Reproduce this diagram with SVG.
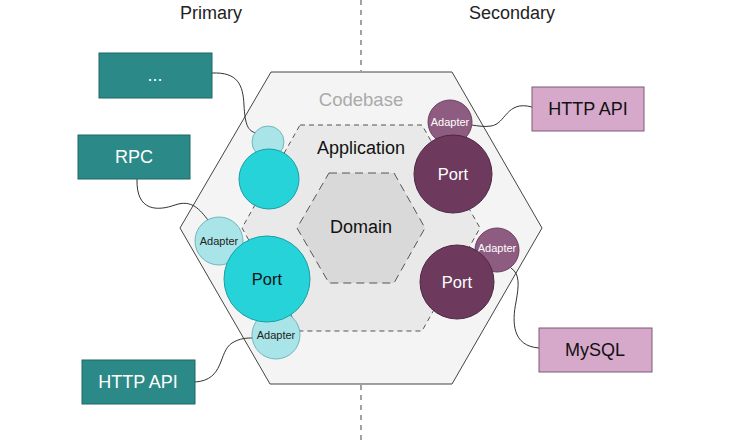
<svg xmlns="http://www.w3.org/2000/svg" width="743" height="444" viewBox="0 0 743 444">
<style>
text{font-family:"Liberation Sans",Arial,sans-serif;text-anchor:middle;dominant-baseline:central}
.title{font-size:18px;fill:#222}
.divider{stroke:#444;stroke-width:1;stroke-dasharray:5,5;fill:none}
.conn{fill:none;stroke:#333;stroke-width:1}
.pbox{fill:#2b8a87;stroke:#1f6664;stroke-width:1}
.sbox{fill:#d6a9cb;stroke:#7d5a74;stroke-width:1}
.wt{fill:#fff;font-size:18px}
.dt{fill:#111;font-size:18px}
.cyan{fill:#25d3d9;stroke:#1a9ea3;stroke-width:1}
.lcyan{fill:#a9e5e8;stroke:#6fb7bb;stroke-width:1}
.purple{fill:#6d3a5d;stroke:#4e2843;stroke-width:1}
.lpurple{fill:#8e5c80;stroke:#6b4061;stroke-width:1}
.port{font-size:16.5px}
.adp{font-size:11px}
</style>
<rect width="743" height="444" fill="#fff"/>
<text class="title" x="211" y="13">Primary</text>
<text class="title" x="512" y="13">Secondary</text>
<line class="divider" x1="361" y1="0" x2="361" y2="71"/>
<line class="divider" x1="361" y1="385" x2="361" y2="444"/>
<g id="codebase">
<polygon points="271,72 452,72 542,228 452,384 270,384 180,228" fill="#f4f4f4" stroke="#444" stroke-width="1"/>
<text x="361" y="99" font-size="18.5" fill="#aaa">Codebase</text>
</g>
<g id="application">
<polygon points="300,125 422,125 480,228 422,331 300,331 242,228" fill="#e9e9e9" stroke="#555" stroke-width="1" stroke-dasharray="5,4"/>
<text x="361" y="148" font-size="18" fill="#111">Application</text>
</g>
<g id="domain">
<polygon points="329,173 394,173 425,228 394,283 329,283 297,228" fill="#d9d9d9" stroke="#555" stroke-width="1" stroke-dasharray="8,5"/>
<text x="361" y="227" font-size="18" fill="#111">Domain</text>
</g>
<g id="connectors">
<path class="conn" d="M212,73 C238,72 243,85 244,105 C245,125 248,131 256,133"/>
<path class="conn" d="M137,179 C136,212 158,211 175,205 C192,199 200,210 208,220"/>
<path class="conn" d="M195,382 C225,380 218,352 232,343 C240,338 247,338 253,338"/>
<path class="conn" d="M532,107 C506,100 506,124 491,126 C484,127 478,126 472,125"/>
<path class="conn" d="M539,348 C512,346 512,322 516,302 C519,285 520,274 511,268"/>
</g>
<g id="primary-extra-adapter"><circle class="lcyan" cx="268" cy="142" r="16"/></g>
<g id="primary-extra-port"><circle class="cyan" cx="269" cy="179" r="30"/></g>
<g id="primary-rpc-adapter"><circle class="lcyan" cx="219" cy="241" r="24"/><text class="adp" x="219" y="241" fill="#222">Adapter</text></g>
<g id="primary-http-adapter"><circle class="lcyan" cx="276" cy="335" r="24"/><text class="adp" x="276" y="335" fill="#222">Adapter</text></g>
<g id="primary-port"><circle class="cyan" cx="267" cy="279" r="43"/><text class="port" x="267" y="279" fill="#111">Port</text></g>
<g id="secondary-http-adapter"><circle class="lpurple" cx="450" cy="122" r="22"/><text class="adp" x="450" y="122" fill="#fff">Adapter</text></g>
<g id="secondary-http-port"><circle class="purple" cx="453" cy="174" r="39"/><text class="port" x="453" y="174" fill="#fff">Port</text></g>
<g id="secondary-mysql-adapter"><circle class="lpurple" cx="497" cy="250" r="22"/><text class="adp" x="497" y="248" fill="#fff">Adapter</text></g>
<g id="secondary-mysql-port"><circle class="purple" cx="457" cy="282" r="37"/><text class="port" x="457" y="282" fill="#fff">Port</text></g>
<g id="box-more"><rect class="pbox" x="99" y="53" width="113" height="45"/><text class="wt" x="155" y="75">...</text></g>
<g id="box-rpc"><rect class="pbox" x="78" y="135" width="112" height="44"/><text class="wt" x="134" y="157">RPC</text></g>
<g id="box-http-primary"><rect class="pbox" x="82" y="360" width="113" height="44"/><text class="wt" x="138" y="382">HTTP API</text></g>
<g id="box-http-secondary"><rect class="sbox" x="532" y="87" width="112" height="44"/><text class="dt" x="588" y="109">HTTP API</text></g>
<g id="box-mysql"><rect class="sbox" x="539" y="328" width="113" height="44"/><text class="dt" x="595" y="350">MySQL</text></g>
</svg>
